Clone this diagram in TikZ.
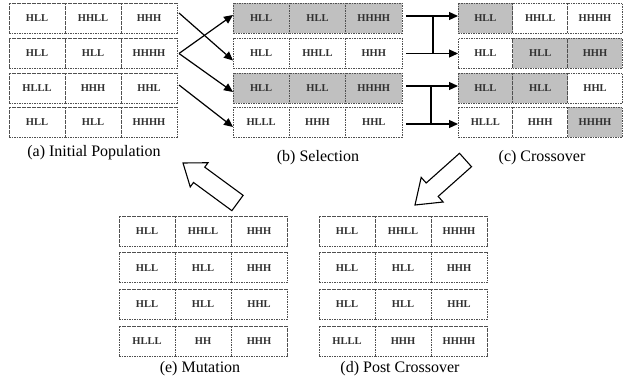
\documentclass[tikz,border=0pt]{standalone}
\usepackage{fontspec}
\setmainfont{Liberation Serif}
\usetikzlibrary{arrows.meta,calc}
\definecolor{cellgray}{HTML}{C0C0C0}
\definecolor{dashcol}{HTML}{505050}
\definecolor{txtcol}{HTML}{303030}
\tikzset{
  cell/.style={draw=dashcol, dash pattern=on 1.6pt off 0.9pt, line width=0.7pt,
    minimum height=30pt, inner sep=0pt, outer sep=0pt, anchor=north west,
    text=txtcol, font=\fontsize{10.5}{12}\selectfont\bfseries},
  caption/.style={font=\fontsize{16}{18}\selectfont, inner sep=0pt},
  arr/.style={line width=1.2pt, -{Triangle[length=9pt,width=8pt]}},
  joinline/.style={line width=1.2pt},
  bigarrow/.style={line width=1.1pt, fill=white, line join=miter}
}
\newcommand\cw{56}
\newcommand\crow[9]{%
  \node[cell,fill=#7,minimum width=\cw] (#1-1) at (#2,#3) {#4};
  \node[cell,fill=#8,minimum width=\cw] (#1-2) at (#1-1.north east) {#5};
  \node[cell,fill=#9,minimum width=\cw] (#1-3) at (#1-2.north east) {#6};
}
\newcommand\blockarrow[5]{% tail center, tip, shaft half width, head half width, head length
  \coordinate (BT) at #1; \coordinate (BP) at #2;
  \coordinate (BN) at ($(BP)!#5pt!(BT)$);
  \draw[bigarrow]
    ($(BT)!#3pt!90:(BP)$) -- ($(BN)!#3pt!90:(BP)$) -- ($(BN)!#4pt!90:(BP)$)
    -- (BP) -- ($(BN)!#4pt!-90:(BP)$) -- ($(BN)!#3pt!-90:(BP)$)
    -- ($(BT)!#3pt!-90:(BP)$) -- cycle;
}
\begin{document}
\begin{tikzpicture}[x=1pt,y=-1pt]
\useasboundingbox (0,0) rectangle (623,379);
% (a) Initial Population
\crow{a1}{9}{3}{HLL}{HHLL}{HHH}{white}{white}{white}
\crow{a2}{9}{38.5}{HLL}{HLL}{HHHH}{white}{white}{white}
\crow{a3}{9}{73}{HLLL}{HHH}{HHL}{white}{white}{white}
\crow{a4}{9}{107}{HLL}{HLL}{HHHH}{white}{white}{white}
\node[caption] (capa) at (94,153) {(a) Initial Population};
% (b) Selection
\renewcommand\cw{56.3}
\crow{b1}{233}{3}{HLL}{HLL}{HHHH}{cellgray}{cellgray}{cellgray}
\crow{b2}{233}{38.5}{HLL}{HHLL}{HHH}{white}{white}{white}
\crow{b3}{233}{73}{HLL}{HLL}{HHHH}{cellgray}{cellgray}{cellgray}
\crow{b4}{233}{107}{HLLL}{HHH}{HHL}{white}{white}{white}
\node[caption] (capb) at (318,158) {(b) Selection};
% (c) Crossover
\renewcommand\cw{54.8}
\crow{c1}{458}{3}{HLL}{HHLL}{HHHH}{cellgray}{white}{white}
\crow{c2}{458}{38.5}{HLL}{HLL}{HHH}{white}{cellgray}{cellgray}
\crow{c3}{458}{73}{HLL}{HLL}{HHL}{cellgray}{cellgray}{white}
\crow{c4}{458}{107}{HLLL}{HHH}{HHHH}{white}{white}{cellgray}
\node[caption] (capc) at (542,158) {(c) Crossover};
% (e) Mutation
\renewcommand\cw{56}
\crow{e1}{119}{216}{HLL}{HHLL}{HHH}{white}{white}{white}
\crow{e2}{119}{252.7}{HLL}{HLL}{HHH}{white}{white}{white}
\crow{e3}{119}{289.3}{HLL}{HLL}{HHL}{white}{white}{white}
\crow{e4}{119}{326}{HLLL}{HH}{HHH}{white}{white}{white}
\node[caption] (cape) at (200,369) {(e) Mutation};
% (d) Post Crossover
\crow{d1}{319}{216}{HLL}{HHLL}{HHHH}{white}{white}{white}
\crow{d2}{319}{252.7}{HLL}{HLL}{HHH}{white}{white}{white}
\crow{d3}{319}{289.3}{HLL}{HLL}{HHL}{white}{white}{white}
\crow{d4}{319}{326}{HLLL}{HHH}{HHHH}{white}{white}{white}
\node[caption] (capd) at (400,369) {(d) Post Crossover};
% selection arrows
\draw[arr] ($(a1-3.east)+(2,-5)$) -- ($(b2-1.west)+(0,7)$);
\draw[arr] ($(a2-3.east)+(2,0)$) -- ($(b1-1.west)+(0,-3)$);
\draw[arr] ($(a2-3.east)+(2,0)$) -- ($(b3-1.west)+(0,4)$);
\draw[arr] ($(a3-3.east)+(2,-3)$) -- ($(b4-1.west)+(0,5)$);
% crossover arrows
\draw[arr] ($(b1-3.east)+(4,-2)$) -- ($(c1-1.west)+(0,-2)$);
\draw[arr] ($(b2-3.east)+(4,0)$) -- (c2-1.west);
\coordinate (m1) at (433,16);
\draw[joinline] (m1) -- (m1 |- c2-1.west);
\draw[arr] ($(b3-3.east)+(4,-2)$) -- ($(c3-1.west)+(0,-2)$);
\draw[arr] ($(b4-3.east)+(4,2)$) -- ($(c4-1.west)+(0,2)$);
\coordinate (m2) at (431,86);
\draw[joinline] (m2) -- (431,124);
% block arrows
\blockarrow{(237.5,203)}{(183,163)}{9.5}{15}{20}
\blockarrow{(465.5,160)}{(415,205)}{9}{16.5}{23}
\end{tikzpicture}
\end{document}
